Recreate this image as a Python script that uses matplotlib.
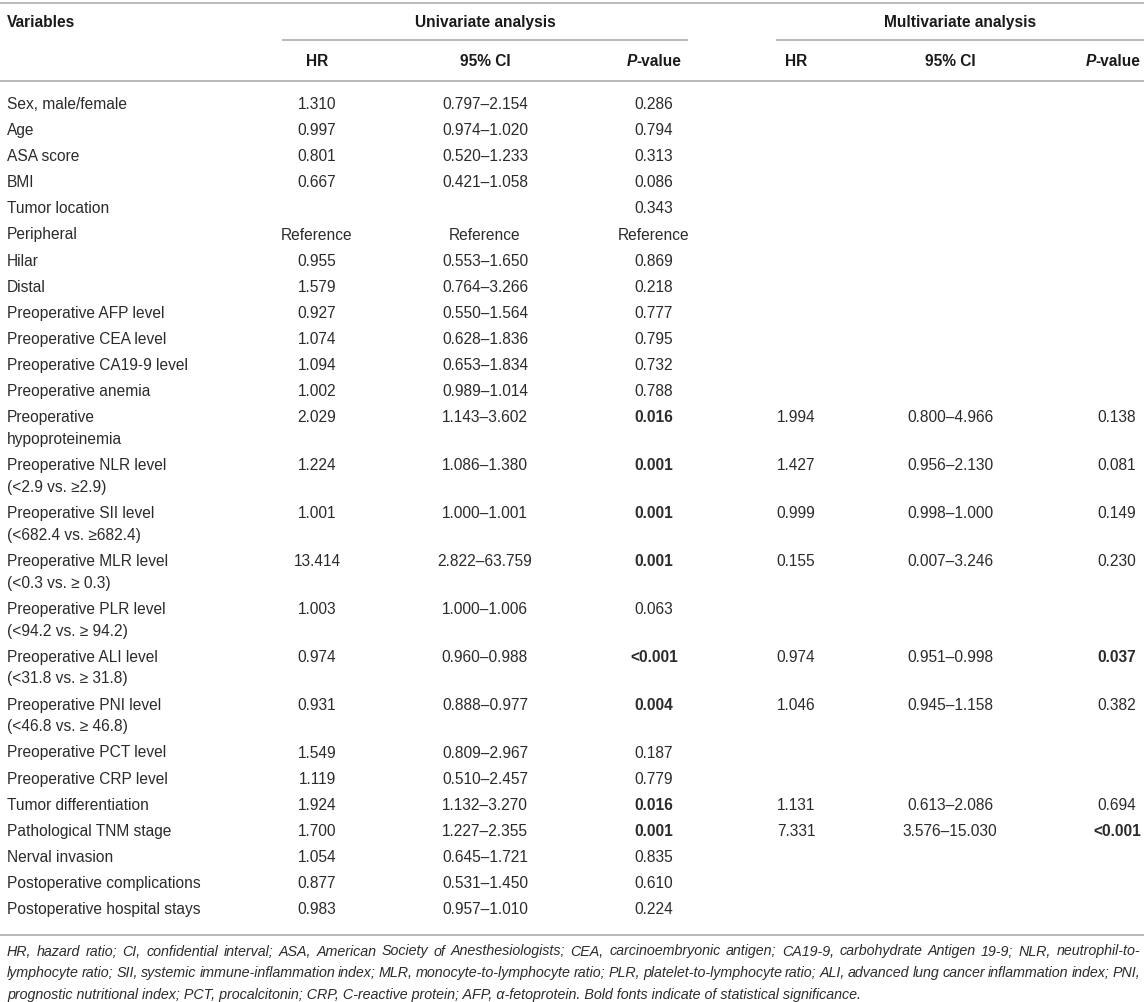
import matplotlib
matplotlib.use("Agg")
import matplotlib.pyplot as plt

##### Table content (Cox regression, univariate and multivariate)

variables = ["Sex, male/female", "Age", "ASA score", "BMI", "Tumor location",
             "Peripheral", "Hilar", "Distal", "Preoperative AFP level",
             "Preoperative CEA level", "Preoperative CA19-9 level",
             "Preoperative anemia", "Preoperative\nhypoproteinemia",
             "Preoperative NLR level\n(<2.9 vs. \u22652.9)",
             "Preoperative SII level\n(<682.4 vs. \u2265682.4)",
             "Preoperative MLR level\n(<0.3 vs. \u2265 0.3)",
             "Preoperative PLR level\n(<94.2 vs. \u2265 94.2)",
             "Preoperative ALI level\n(<31.8 vs. \u2265 31.8)",
             "Preoperative PNI level\n(<46.8 vs. \u2265 46.8)",
             "Preoperative PCT level", "Preoperative CRP level",
             "Tumor differentiation", "Pathological TNM stage",
             "Nerval invasion", "Postoperative complications",
             "Postoperative hospital stays"]

uni_hr = ["1.310", "0.997", "0.801", "0.667", "", "Reference", "0.955", "1.579",
          "0.927", "1.074", "1.094", "1.002", "2.029", "1.224", "1.001", "13.414",
          "1.003", "0.974", "0.931", "1.549", "1.119", "1.924", "1.700", "1.054",
          "0.877", "0.983"]
uni_ci = ["0.797\u20132.154", "0.974\u20131.020", "0.520\u20131.233", "0.421\u20131.058", "",
          "Reference", "0.553\u20131.650", "0.764\u20133.266", "0.550\u20131.564",
          "0.628\u20131.836", "0.653\u20131.834", "0.989\u20131.014", "1.143\u20133.602",
          "1.086\u20131.380", "1.000\u20131.001", "2.822\u201363.759", "1.000\u20131.006",
          "0.960\u20130.988", "0.888\u20130.977", "0.809\u20132.967", "0.510\u20132.457",
          "1.132\u20133.270", "1.227\u20132.355", "0.645\u20131.721", "0.531\u20131.450",
          "0.957\u20131.010"]
uni_p = ["0.286", "0.794", "0.313", "0.086", "0.343", "Reference", "0.869", "0.218",
         "0.777", "0.795", "0.732", "0.788", "0.016", "0.001", "0.001", "0.001",
         "0.063", "<0.001", "0.004", "0.187", "0.779", "0.016", "0.001", "0.835",
         "0.610", "0.224"]

# multivariate: only some variables entered the model
multi_rows = [12, 13, 14, 15, 17, 18, 21, 22]
multi_hr = ["1.994", "1.427", "0.999", "0.155", "0.974", "1.046", "1.131", "7.331"]
multi_ci = ["0.800\u20134.966", "0.956\u20132.130", "0.998\u20131.000", "0.007\u20133.246",
            "0.951\u20130.998", "0.945\u20131.158", "0.613\u20132.086", "3.576\u201315.030"]
multi_p = ["0.138", "0.081", "0.149", "0.230", "0.037", "0.382", "0.694", "<0.001"]

footnote = ["HR, hazard ratio; CI, confidential interval; ASA, American Society of Anesthesiologists; "
            "CEA, carcinoembryonic antigen; CA19-9, carbohydrate Antigen 19-9; NLR, neutrophil-to-",
            "lymphocyte ratio; SII, systemic immune-inflammation index; MLR, monocyte-to-lymphocyte ratio; "
            "PLR, platelet-to-lymphocyte ratio; ALI, advanced lung cancer inflammation index; PNI,",
            "prognostic nutritional index; PCT, procalcitonin; CRP, C-reactive protein; AFP, "
            "\u03b1-fetoprotein. Bold fonts indicate of statistical significance."]

##### Figure set-up (axes in pixel units)

W, H = 1144, 1002
plt.rcParams['font.family'] = ['Liberation Sans', 'DejaVu Sans']
fig = plt.figure(figsize=(W / 100, H / 100), dpi=100)
ax = fig.add_axes([0, 0, 1, 1])
ax.set_xlim(0, W)
ax.set_ylim(H, 0)
ax.axis('off')
renderer = fig.canvas.get_renderer()

FS = 11.2
TXT = '#2b2b2b'
HEAD = '#1a1a1a'
LINE = '#b4b4b4'

x_var = 7
x_cols = [317, 485, 654, 796, 950, 1117]


def is_signif(p):
    if p.startswith('<'):
        return True
    try:
        return float(p) < 0.05
    except ValueError:
        return False


def width_of(t):
    return t.get_window_extent(renderer).width


def pvalue_header(xc, y):
    tp = ax.text(0, y, 'P', fontsize=FS, weight='bold', style='italic', color=HEAD, va='center')
    tv = ax.text(0, y, '-value', fontsize=FS, weight='bold', color=HEAD, va='center')
    wp, wv = width_of(tp), width_of(tv)
    left = xc - (wp + wv) / 2
    tp.set_x(left)
    tv.set_x(left + wp)


##### Rules

for y in [3, 81, 935]:
    ax.plot([0, W], [y, y], color=LINE, lw=1.3, solid_capstyle='butt')
ax.plot([282, 688], [39.5, 39.5], color=LINE, lw=1.3, solid_capstyle='butt')
ax.plot([776, W], [39.5, 39.5], color=LINE, lw=1.3, solid_capstyle='butt')

##### Header

ax.text(x_var, 22, 'Variables', fontsize=FS, weight='bold', color=HEAD, va='center')
ax.text(485, 22, 'Univariate analysis', fontsize=FS, weight='bold', color=HEAD, va='center', ha='center')
ax.text(960, 22, 'Multivariate analysis', fontsize=FS, weight='bold', color=HEAD, va='center', ha='center')
for k in [0, 3]:
    ax.text(x_cols[k], 61, 'HR', fontsize=FS, weight='bold', color=HEAD, va='center', ha='center')
    ax.text(x_cols[k + 1], 61, '95% CI', fontsize=FS, weight='bold', color=HEAD, va='center', ha='center')
pvalue_header(654, 61)
pvalue_header(1113, 61)

##### Body

pitch = 26.1
second = 21.8
y = 104.5
row_y = []
for lab in variables:
    row_y.append(y)
    lines = lab.split('\n')
    for j, ln in enumerate(lines):
        ax.text(x_var, y + j * second, ln, fontsize=FS, color=TXT, va='center')
    y += pitch + (len(lines) - 1) * second

for i in range(len(variables)):
    yy = row_y[i]
    ax.text(x_cols[0], yy, uni_hr[i], fontsize=FS, color=TXT, va='center', ha='center')
    ax.text(x_cols[1], yy, uni_ci[i], fontsize=FS, color=TXT, va='center', ha='center')
    ax.text(x_cols[2], yy, uni_p[i], fontsize=FS, color=TXT, va='center', ha='center',
            weight='bold' if is_signif(uni_p[i]) else 'normal')

for r, hr, ci, p in zip(multi_rows, multi_hr, multi_ci, multi_p):
    yy = row_y[r]
    ax.text(x_cols[3], yy, hr, fontsize=FS, color=TXT, va='center', ha='center')
    ax.text(x_cols[4], yy, ci, fontsize=FS, color=TXT, va='center', ha='center')
    ax.text(x_cols[5], yy, p, fontsize=FS, color=TXT, va='center', ha='center',
            weight='bold' if is_signif(p) else 'normal')

##### Footnote (justified except last line)

FN = 10.3
fn_y = [951.5, 973, 994.5]
right = 1140
for k, line in enumerate(footnote):
    if k == len(footnote) - 1:
        ax.text(x_var, fn_y[k], line, fontsize=FN, style='italic', color=TXT, va='center')
        continue
    words = line.split(' ')
    objs = [ax.text(0, fn_y[k], w, fontsize=FN, style='italic', color=TXT, va='center') for w in words]
    ws = [width_of(o) for o in objs]
    gap = (right - x_var - sum(ws)) / (len(words) - 1)
    xx = x_var
    for o, w in zip(objs, ws):
        o.set_x(xx)
        xx += w + gap

fig.savefig('out.png', dpi=100)
